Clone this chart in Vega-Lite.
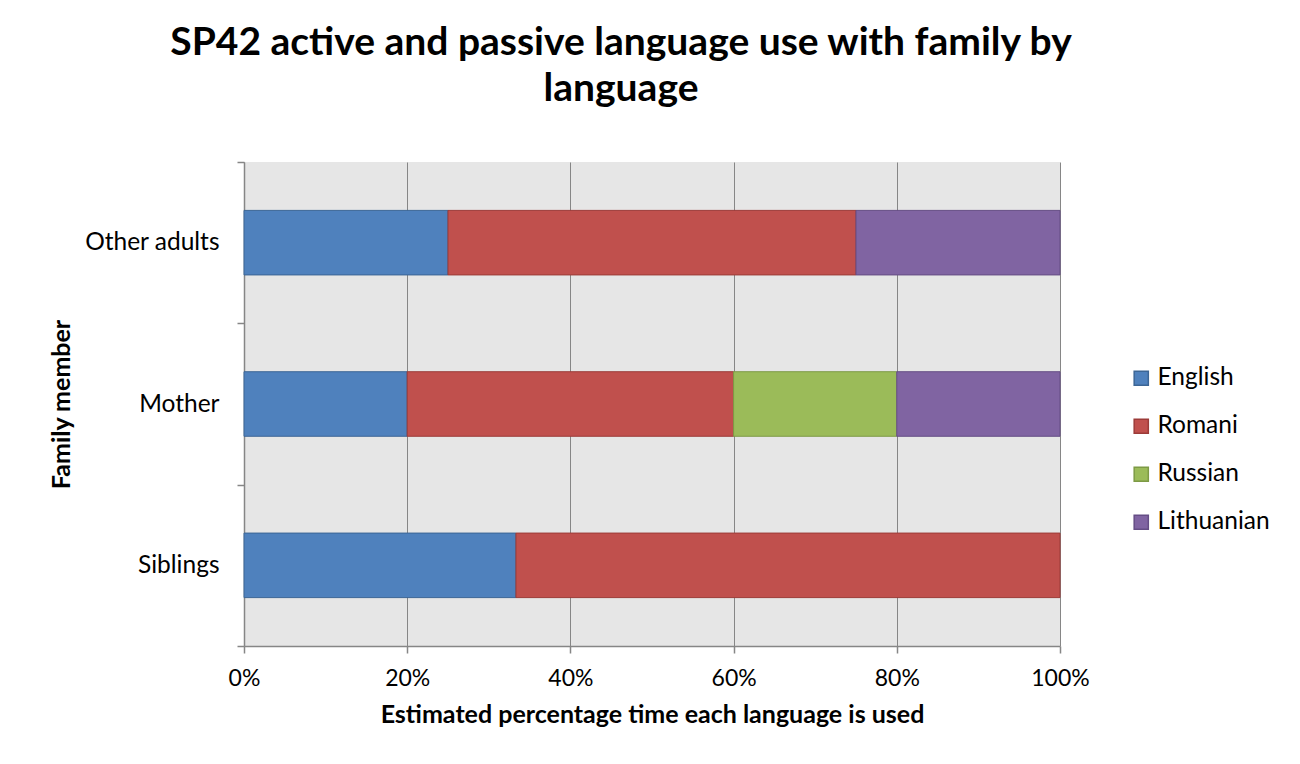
{
  "$schema": "https://vega.github.io/schema/vega-lite/v6.json",
  "width": 816,
  "height": 484,
  "autosize": {"type": "none"},
  "padding": {"left": 244, "top": 162, "right": 240, "bottom": 118},
  "background": "white",
  "title": {
    "text": ["SP42 active and passive language use with family by", "language"],
    "font": "Lato",
    "fontSize": 39,
    "fontWeight": "bold",
    "color": "#000000",
    "lineHeight": 46,
    "anchor": "middle",
    "dx": -31,
    "offset": 40
  },
  "data": {
    "values": [
      {"member": "Other adults", "language": "English", "idx": 1, "share": 0.25},
      {"member": "Other adults", "language": "Romani", "idx": 2, "share": 0.5},
      {"member": "Other adults", "language": "Lithuanian", "idx": 4, "share": 0.25},
      {"member": "Mother", "language": "English", "idx": 1, "share": 0.2},
      {"member": "Mother", "language": "Romani", "idx": 2, "share": 0.4},
      {"member": "Mother", "language": "Russian", "idx": 3, "share": 0.2},
      {"member": "Mother", "language": "Lithuanian", "idx": 4, "share": 0.2},
      {"member": "Siblings", "language": "English", "idx": 1, "share": 0.3333},
      {"member": "Siblings", "language": "Romani", "idx": 2, "share": 0.6667}
    ]
  },
  "mark": {"type": "bar", "height": {"band": 0.4}, "strokeWidth": 1},
  "encoding": {
    "y": {
      "field": "member",
      "type": "nominal",
      "sort": ["Other adults", "Mother", "Siblings"],
      "scale": {"paddingInner": 0, "paddingOuter": 0},
      "axis": {
        "title": "Family member",
        "titleFont": "Lato",
        "titleFontSize": 25,
        "titleFontWeight": "bold",
        "titleColor": "#000000",
        "titlePadding": 10,
        "labelFont": "Lato",
        "labelFontSize": 24.5,
        "labelColor": "#000000",
        "labelPadding": 18,
        "tickBand": "extent",
        "tickSize": 7,
        "tickColor": "#868686",
        "domainColor": "#868686",
        "grid": false
      }
    },
    "x": {
      "field": "share",
      "type": "quantitative",
      "stack": "zero",
      "scale": {"domain": [0, 1], "nice": false},
      "axis": {
        "title": "Estimated percentage time each language is used",
        "titleFont": "Lato",
        "titleFontSize": 25,
        "titleFontWeight": "bold",
        "titleColor": "#000000",
        "titlePadding": 12,
        "format": ".0%",
        "values": [0, 0.2, 0.4, 0.6, 0.8, 1],
        "labelFlush": false,
        "labelFont": "Lato",
        "labelFontSize": 23,
        "labelColor": "#000000",
        "labelPadding": 14,
        "tickSize": 7,
        "tickColor": "#868686",
        "domainColor": "#868686",
        "grid": true,
        "gridColor": "#868686",
        "gridOpacity": 1
      }
    },
    "color": {
      "field": "language",
      "type": "nominal",
      "scale": {
        "domain": ["English", "Romani", "Russian", "Lithuanian"],
        "range": ["#4f81bd", "#c0504d", "#9bbb59", "#8064a2"]
      },
      "legend": {
        "title": null,
        "orient": "none",
        "legendX": 885,
        "legendY": 204,
        "symbolType": "square",
        "symbolSize": 200,
        "symbolOpacity": 1,
        "labelFont": "Lato",
        "labelFontSize": 24.5,
        "labelColor": "#000000",
        "labelOffset": 4,
        "rowPadding": 23
      }
    },
    "stroke": {
      "field": "language",
      "type": "nominal",
      "scale": {
        "domain": ["English", "Romani", "Russian", "Lithuanian"],
        "range": ["#3c6696", "#9c3b38", "#7d9a45", "#654d85"]
      },
      "legend": null
    },
    "order": {"field": "idx", "type": "quantitative", "sort": "ascending"}
  },
  "config": {
    "view": {"fill": "#e6e6e6", "stroke": null},
    "axis": {"domainWidth": 1.5, "tickWidth": 1.5}
  }
}
